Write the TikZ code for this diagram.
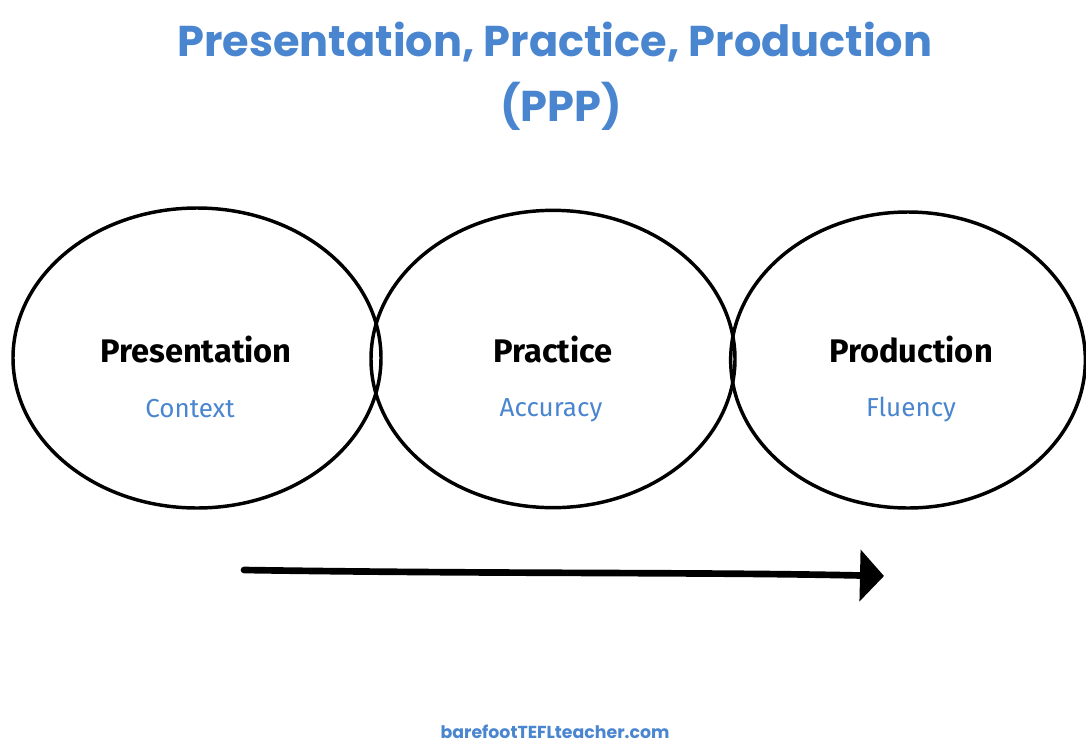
\documentclass[tikz,border=0pt]{standalone}
\usepackage{fontspec}
\usetikzlibrary{shapes.geometric,arrows.meta}
\newfontfamily\titlefont{Poppins}
\newfontfamily\handfont{Fira Sans}
\definecolor{pppblue}{HTML}{4A86D0}
\begin{document}
\begin{tikzpicture}[x=0.75pt,y=-0.75pt,
  bubble/.style={draw=black,line width=2.6pt,ellipse,inner sep=0pt,minimum width=#1},
  stage/.style={font=\handfont\bfseries\fontsize{24.5}{30}\selectfont,text=black,inner sep=0pt},
  aspect/.style={font=\handfont\fontsize{19.5}{22}\selectfont,text=pppblue,inner sep=0pt},
  titletext/.style={font=\titlefont\bfseries\fontsize{32.3}{38}\selectfont,text=pppblue,inner sep=0pt,align=center}]
\useasboundingbox (0,0) rectangle (1086,743);
\fill[white] (0,0) rectangle (1086,743);
\node[titletext] (t1) at (555,42) {Presentation, Practice, Production};
\node[titletext] (t2) at (561,106) {(PPP)};
\node[bubble=276pt,minimum height=225pt] (e1) at (197,358) {};
\node[bubble=273pt,minimum height=223pt] (e2) at (553,359) {};
\node[bubble=266pt,minimum height=222pt] (e3) at (908,360) {};
\node[stage] (s1) at (196,350) {Presentation};
\node[stage] (s2) at (553,350) {Practice};
\node[stage] (s3) at (911,350) {Production};
\node[aspect] (a1) at (190,409) {Context};
\node[aspect] (a2) at (551,410) {Accuracy};
\node[aspect] (a3) at (911,410) {Fluency};
\coordinate (arrS) at (244,570);
\coordinate (arrE) at (884,576);
\draw[line width=5pt,line cap=round,-{Triangle[length=18pt,width=38pt]}] (arrS) .. controls (500,574) and (700,572) .. (arrE);
\node[font=\titlefont\bfseries\fontsize{13}{15}\selectfont,text=pppblue,inner sep=0pt] (foot) at (555,732) {barefootTEFLteacher.com};
\end{tikzpicture}
\end{document}
